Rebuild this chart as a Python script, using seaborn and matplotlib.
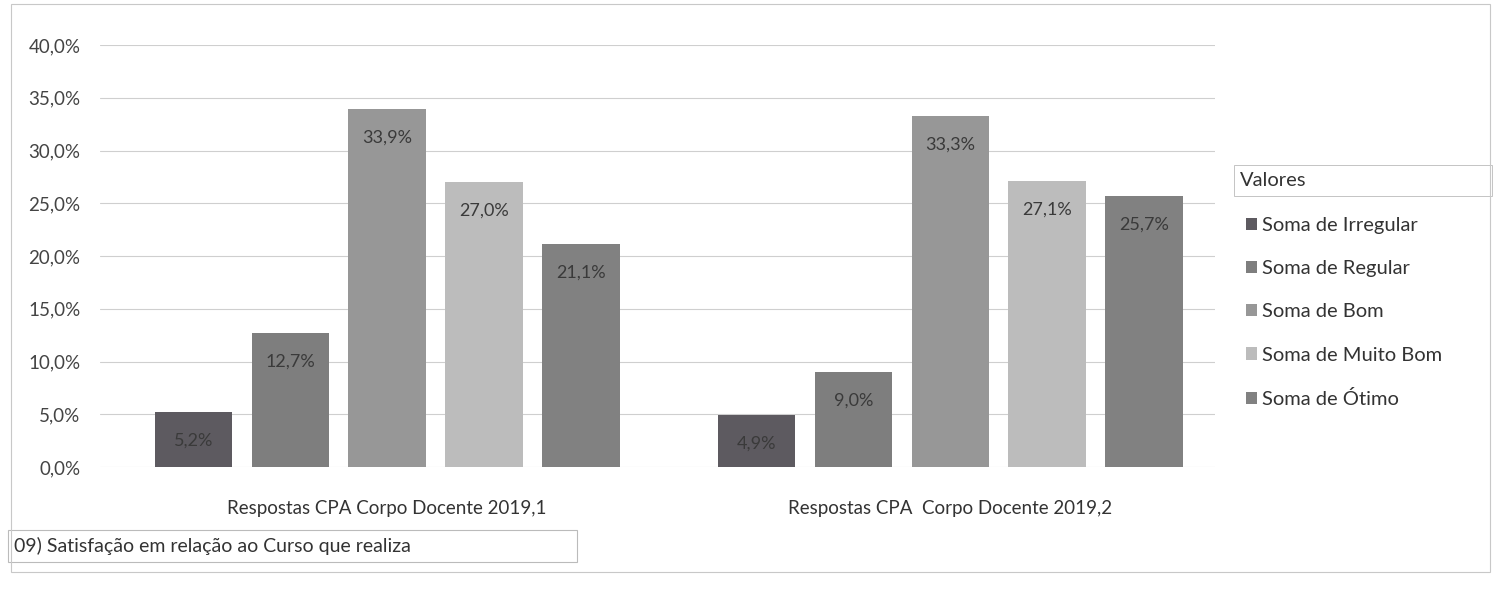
import matplotlib
matplotlib.use("Agg")
import matplotlib.pyplot as plt
from matplotlib.patches import Rectangle, Patch
import seaborn as sns
import pandas as pd

groups = ["Respostas CPA Corpo Docente 2019,1", "Respostas CPA  Corpo Docente 2019,2"]
series = ["Soma de Irregular", "Soma de Regular", "Soma de Bom", "Soma de Muito Bom", "Soma de Ótimo"]
values_2019_1 = [5.2, 12.7, 33.9, 27.0, 21.1]
values_2019_2 = [4.9, 9.0, 33.3, 27.1, 25.7]
yticks = [0, 5, 10, 15, 20, 25, 30, 35, 40]
title_text = "09) Satisfação em relação ao Curso que realiza"
legend_title = "Valores"

colors = ["#5d5a60", "#7e7e7e", "#979797", "#bcbcbc", "#818181"]

rows = []
for g, vals in zip(groups, [values_2019_1, values_2019_2]):
    for s, v in zip(series, vals):
        rows.append({"grupo": g, "serie": s, "valor": v})
df = pd.DataFrame(rows)

sns.set_theme(style="white")
plt.rcParams['font.family'] = ['Lato', 'DejaVu Sans']

fig = plt.figure(figsize=(14.94, 5.97), dpi=100)
ax = fig.add_axes([100/1494, 1 - 467/597, (1215-100)/1494, (467-45)/597])

sns.barplot(data=df, x="grupo", y="valor", hue="serie", hue_order=series,
            palette=colors, width=0.86, gap=0.2, ax=ax, legend=False,
            saturation=1, edgecolor="none")

ax.set_ylim(0, 40)
ax.set_xlim(-0.51, 1.47)
ax.set_yticks(yticks)
ax.set_yticklabels([f"{t:.1f}%".replace(".", ",") for t in yticks], fontsize=13.5, color="#444444")
ax.tick_params(axis="y", length=0, pad=14)
ax.tick_params(axis="x", length=0, pad=24)
ax.set_xticks([0, 1])
ax.set_xticklabels(groups, fontsize=13.5, color="#333333")
ax.set_xlabel("")
ax.set_ylabel("")
ax.grid(axis="y", color="#cfcfcf", linewidth=0.8)
ax.set_axisbelow(True)
for sp in ax.spines.values():
    sp.set_visible(False)

for cont in ax.containers:
    for bar in cont:
        h = bar.get_height()
        ax.text(bar.get_x() + bar.get_width()/2, h - 2.7,
                f"{h:.1f}%".replace(".", ","), ha="center", va="center",
                fontsize=13, color="#3a3a3a")

# legend
handles = [Patch(facecolor=c, edgecolor="none") for c in colors]
fig.text(1240/1494, 1 - 181/597, legend_title, fontsize=14.5, color="#333333",
         va="center", ha="left")
fig.patches.append(Rectangle((1234/1494, 1 - 196/597), (1492-1234)/1494, 31/597,
                             transform=fig.transFigure, fill=False, edgecolor="#c4c4c4", linewidth=0.7))
leg = fig.legend(handles, series, loc="upper left", bbox_to_anchor=(1238/1494, 1 - 209/597),
                 frameon=False, fontsize=14.5, handlelength=0.55, handleheight=0.55,
                 handletextpad=0.25, labelspacing=1.3, borderaxespad=0)
for t in leg.get_texts():
    t.set_color("#333333")

# title box bottom-left
fig.text(14/1494, 1 - 546/597, title_text, fontsize=14, color="#333333", va="center", ha="left")
fig.patches.append(Rectangle((8/1494, 1 - 562/597), (577-8)/1494, 32/597,
                             transform=fig.transFigure, fill=False, edgecolor="#bbbbbb", linewidth=0.8))
# outer frame
fig.patches.append(Rectangle((11/1494, 1 - 572/597), (1490-11)/1494, (572-4)/597,
                             transform=fig.transFigure, fill=False, edgecolor="#c8c8c8", linewidth=0.8))

fig.savefig("out.png", dpi=100, facecolor="white")
